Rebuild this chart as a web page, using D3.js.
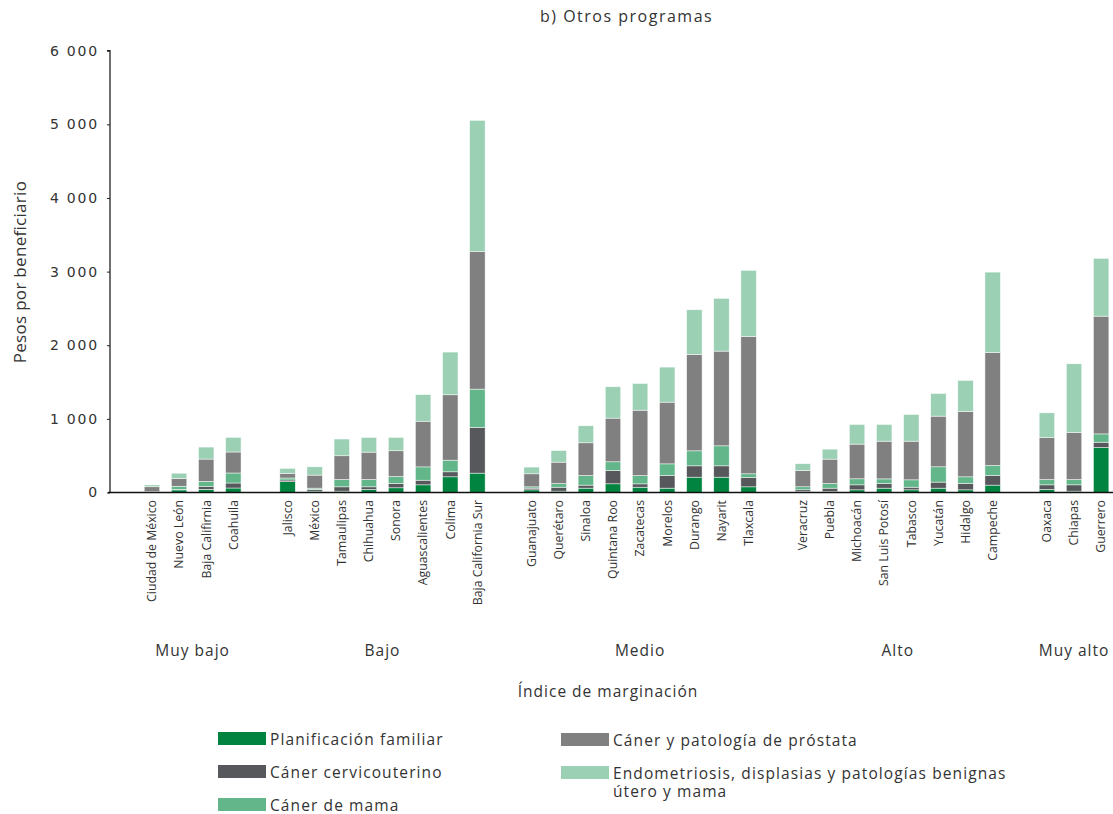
<!DOCTYPE html>
<html><head><meta charset="utf-8">
<script src="https://cdn.jsdelivr.net/npm/d3@7"></script>
<style>
html,body{margin:0;padding:0;background:#fff;}
svg{display:block;}
</style></head>
<body>
<script>
// ---- data ----
const groups = ["Muy bajo","Bajo","Medio","Alto","Muy alto"];
const groupStates = [
  ["Ciudad de México","Nuevo León","Baja Califirnia","Coahuila"],
  ["Jalisco","México","Tamaulipas","Chihuahua","Sonora","Aguascalientes","Colima","Baja California Sur"],
  ["Guanajuato","Querétaro","Sinaloa","Quintana Roo","Zacatecas","Morelos","Durango","Nayarit","Tlaxcala"],
  ["Veracruz","Puebla","Michoacán","San Luis Potosí","Tabasco","Yucatán","Hidalgo","Campeche"],
  ["Oaxaca","Chiapas","Guerrero"]
];
const seriesNames = ["Planificación familiar","Cáner cervicouterino","Cáner de mama","Cáner y patología de próstata","Endometriosis, displasias y patologías benignas útero y mama"];
// values per state in the order of groupStates (flattened)
const planificacion = [5,35,43,61, 147,18,18,41,64,104,213,263, 36,18,59,118,72,59,208,208,77, 14,14,36,59,36,59,36,100, 41,18,611];
const cervicouterino = [5,5,36,68, 23,23,59,36,59,63,68,620, 23,54,41,181,45,172,154,154,127, 23,45,68,63,36,82,86,131, 63,86,72];
const mama = [3,45,72,136, 27,18,100,100,95,181,158,521, 18,50,131,118,113,158,204,272,50, 41,63,82,63,100,208,91,136, 72,72,113];
const prostata = [65,105,303,285, 63,177,322,371,349,620,888,1866, 177,290,444,593,888,838,1309,1286,1866, 222,331,471,512,525,688,888,1535, 571,639,1599];
const endometriosis = [25,72,163,199, 68,113,227,199,181,362,580,1784, 91,158,231,426,362,476,607,716,897, 91,136,267,227,362,308,421,1091, 335,933,784];
const yTicks = [0,1000,2000,3000,4000,5000,6000];
const colors = ["#00843f","#57585b","#62b68a","#808080","#9bd0b5"];

// ---- build table ----
const states = groupStates.flat();
const keys = ["pf","cc","cm","pr","en"];
const cols = [planificacion,cervicouterino,mama,prostata,endometriosis];
const table = states.map((s,i)=>{const o={state:s}; keys.forEach((k,j)=>o[k]=cols[j][i]); return o;});

// slot domain with gaps between groups
const slots = [];
groupStates.forEach((g,gi)=>{ if(gi>0) slots.push("__gap"+gi); g.forEach(s=>slots.push(s)); });

const W=1113,H=814;
const svg = d3.select("body").append("svg").attr("width",W).attr("height",H)
  .style("font-family","'Open Sans', sans-serif");

const x = d3.scaleBand().domain(slots).range([138.4,1114.7]).paddingInner(0.43).paddingOuter(0.215);
const y = d3.scaleLinear().domain([0,6000]).range([492.5,50.7]);

// title
svg.append("text").attr("x",540).attr("y",22).attr("text-anchor","start")
  .attr("font-size",16).attr("letter-spacing","1.5px").attr("fill","#333").text("b) Otros programas");

// bars
const stack = d3.stack().keys(keys)(table);
svg.append("g").selectAll("g").data(stack).join("g")
  .attr("fill",(d,i)=>colors[i])
  .selectAll("rect").data(d=>d).join("rect")
  .attr("x",d=>x(d.data.state)).attr("width",x.bandwidth())
  .attr("y",d=>y(d[1])).attr("height",d=>Math.max(0,y(d[0])-y(d[1])))
  .attr("stroke","#fff").attr("stroke-width",0.6).attr("stroke-opacity",0.8);

// y axis
const yAxis = d3.axisLeft(y).tickValues(yTicks).tickSize(3).tickPadding(8)
  .tickFormat(d=>d3.format(",")(d).replace(/,/g," "));
const gy = svg.append("g").attr("transform","translate(110,0)").call(yAxis);
gy.select(".domain").attr("stroke","#222").attr("stroke-width",1.3).attr("d","M-3,50.7H0V492.5");
gy.selectAll(".tick line").attr("stroke","#222");
gy.selectAll(".tick text").attr("font-family","'DejaVu Sans', sans-serif").attr("font-size",14)
  .attr("letter-spacing","1.8px").attr("fill","#333");

// x axis line
svg.append("line").attr("x1",108).attr("x2",1113).attr("y1",492.5).attr("y2",492.5)
  .attr("stroke","#111").attr("stroke-width",1.6);

// x labels
svg.append("g").selectAll("text").data(states).join("text")
  .attr("transform",d=>`translate(${x(d)+x.bandwidth()/2},500) rotate(-90)`)
  .attr("text-anchor","end").attr("dy","0.35em")
  .attr("font-size",12.3).attr("fill","#333").text(d=>d);

// group labels
svg.append("g").selectAll("text").data(groups).join("text")
  .attr("x",(d,i)=>{const g=groupStates[i]; return (x(g[0])+x(g[g.length-1])+x.bandwidth())/2;})
  .attr("y",656).attr("text-anchor","middle").attr("font-size",15.5).attr("letter-spacing","1px")
  .attr("fill","#333").text(d=>d);

svg.append("text").attr("x",608).attr("y",697).attr("text-anchor","middle")
  .attr("font-size",15.5).attr("letter-spacing","1px").attr("fill","#333").text("Índice de marginación");

// y title
svg.append("text").attr("transform","translate(26,272) rotate(-90)").attr("text-anchor","middle")
  .attr("font-size",17).attr("letter-spacing","0.3px").attr("fill","#333").text("Pesos por beneficiario");

// legend
const legPos = [[218,732],[218,765],[218,798],[561,733],[561,766]];
const leg = svg.append("g").selectAll("g").data(seriesNames).join("g")
  .attr("transform",(d,i)=>`translate(${legPos[i][0]},${legPos[i][1]})`);
leg.append("rect").attr("width",48).attr("height",13).attr("fill",(d,i)=>colors[i]);
leg.each(function(d,i){
  const t = d3.select(this).append("text").attr("x",52).attr("y",12.5).attr("font-size",15.5)
    .attr("letter-spacing","1.1px").attr("fill","#333");
  if(i===4){
    t.append("tspan").attr("x",52).text("Endometriosis, displasias y patologías benignas");
    t.append("tspan").attr("x",52).attr("dy",18).text("útero y mama");
  } else t.text(d);
});
</script>
</body></html>
